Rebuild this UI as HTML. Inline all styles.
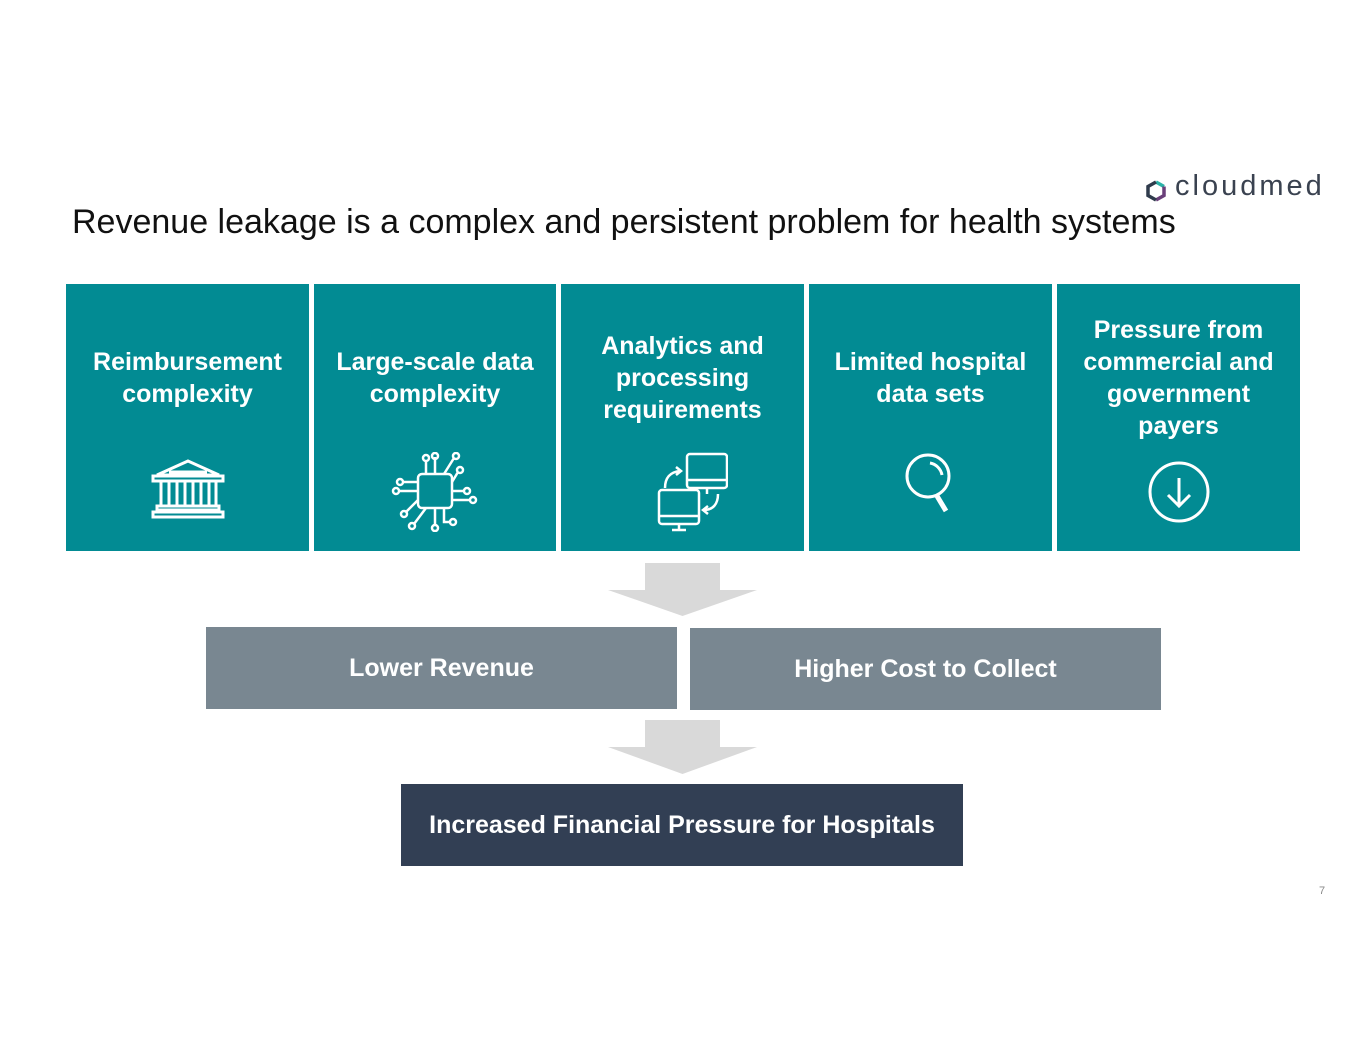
<!DOCTYPE html>
<html><head><meta charset="utf-8"><style>
body{margin:0;width:1365px;height:1055px;background:#fff;position:relative;overflow:hidden;font-family:"Liberation Sans",Arial,sans-serif}
.a{position:absolute}
.box{position:absolute;top:284px;height:267px;background:#028b93;color:#fff}
.box .t{position:absolute;left:0;right:0;top:0;height:188px;display:flex;align-items:center;justify-content:center;text-align:center;font-weight:bold;font-size:25px;line-height:32px}
.box svg{position:absolute;left:50%;top:168px;margin-left:-45px}
.g{position:absolute;background:#798791;color:#fff;font-weight:bold;font-size:25px;display:flex;align-items:center;justify-content:center}
</style></head><body>
<div class="a" style="left:72px;top:203px;font-size:34px;color:#111">Revenue leakage is a complex and persistent problem for health systems</div>
<svg class="a" style="left:1145px;top:179px" width="22" height="24" viewBox="0 0 22 24"><path d="M11 3 L19 7.5" stroke="#2bb3a8" stroke-width="3.5" fill="none"/><path d="M19 7.5 V16.5 L11 21" stroke="#6a3f7a" stroke-width="3.5" fill="none"/><path d="M11 21 L3 16.5 V7.5 L11 3" stroke="#2f3b4c" stroke-width="3.5" fill="none"/></svg>
<div class="a" style="left:1175px;top:170px;font-size:29px;color:#3a4250;letter-spacing:3px">cloudmed</div>

<div class="box" style="left:66px;width:243px"><div class="t">Reimbursement<br>complexity</div>
<svg width="90" height="80" viewBox="0 0 90 80" fill="none" stroke="#fff" stroke-width="3"><path d="M45 9 L14 23 H76 Z M26 20 H64"/><rect x="10" y="24" width="70" height="5"/><path d="M18 29v25M26 29v25M34 29v25M42 29v25M50 29v25M58 29v25M66 29v25M73 29v25"/><rect x="14" y="54" width="62" height="4"/><rect x="10" y="60" width="70" height="5"/></svg></div>
<div class="box" style="left:314px;width:242px"><div class="t">Large-scale data<br>complexity</div>
<svg width="90" height="80" viewBox="0 0 90 80" fill="none" stroke="#fff" stroke-width="2.5"><rect x="28" y="22" width="34" height="34" rx="4"/><path d="M36 22V8M45 22V5M54 22L64 6M36 56L24 72M45 56V74M54 56V70H60M28 30H12M28 39H8M28 48L16 60M62 30L68 20M62 39H74M62 48H80"/><circle cx="36" cy="6" r="3"/><circle cx="45" cy="4" r="3"/><circle cx="66" cy="4" r="3"/><circle cx="22" cy="74" r="3"/><circle cx="45" cy="76" r="3"/><circle cx="63" cy="70" r="3"/><circle cx="10" cy="30" r="3"/><circle cx="6" cy="39" r="3"/><circle cx="14" cy="62" r="3"/><circle cx="70" cy="18" r="3"/><circle cx="77" cy="39" r="3"/><circle cx="83" cy="48" r="3"/></svg></div>
<div class="box" style="left:561px;width:243px"><div class="t">Analytics and<br>processing<br>requirements</div>
<svg width="90" height="80" viewBox="0 0 90 80" fill="none" stroke="#fff" stroke-width="2.5"><rect x="49" y="2" width="40" height="34" rx="3"/><path d="M49 28H89M69 36V42"/><rect x="21" y="38" width="40" height="34" rx="3"/><path d="M21 64H61M41 72V78M34 78H48"/><path d="M27 36C27 26 32 20 42 19M38 15L43 19L38 23"/><path d="M80 42C80 52 75 58 66 58M70 54L65 58L70 62"/></svg></div>
<div class="box" style="left:809px;width:243px"><div class="t">Limited hospital<br>data sets</div>
<svg width="90" height="80" viewBox="0 0 90 80" fill="none" stroke="#fff" stroke-width="3"><circle cx="42" cy="24" r="21"/><path d="M44 11C50 12 55 17 56 23"/><path d="M51 44L60 59" stroke-width="5"/></svg></div>
<div class="box" style="left:1057px;width:243px"><div class="t">Pressure from<br>commercial and<br>government<br>payers</div>
<svg width="90" height="80" viewBox="0 0 90 80" fill="none" stroke="#fff" stroke-width="3"><circle cx="45" cy="40" r="29"/><path d="M45 26V53M34 43L45 54L56 43"/></svg></div>

<svg class="a" style="left:0;top:0" width="1365" height="1055"><path d="M645 563H720V590H757L682.5 616L608 590H645Z" fill="#d9d9d9"/><path d="M645 720H720V747H757L682.5 774L608 747H645Z" fill="#d9d9d9"/></svg>
<div class="g" style="left:206px;top:627px;width:471px;height:82px">Lower Revenue</div>
<div class="g" style="left:690px;top:628px;width:471px;height:82px">Higher Cost to Collect</div>
<div class="g" style="left:401px;top:784px;width:562px;height:82px;background:#323f54">Increased Financial Pressure for Hospitals</div>
<div class="a" style="left:1319px;top:885px;font-size:11px;color:#888">7</div>
</body></html>
